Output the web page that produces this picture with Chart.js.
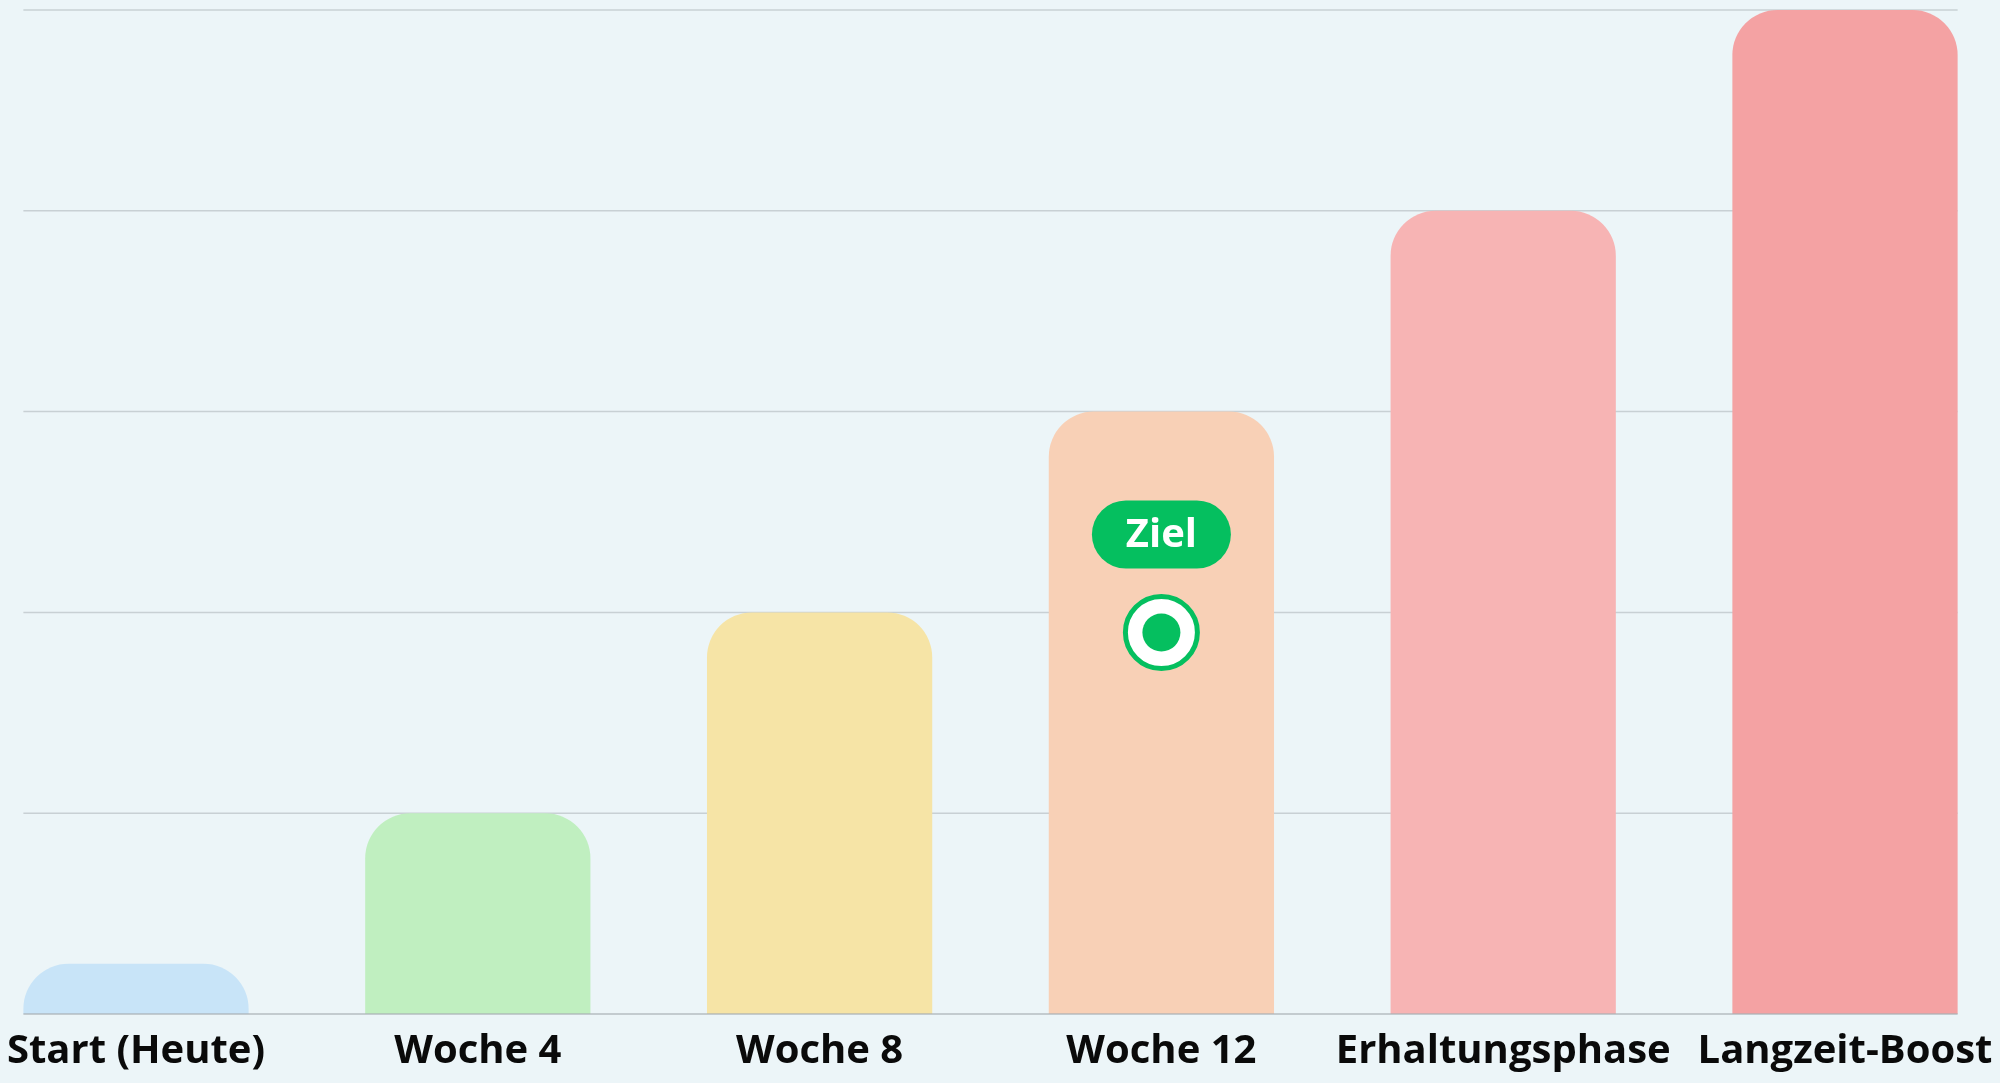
<!DOCTYPE html>
<html>
<head>
<meta charset="utf-8">
<script src="https://cdn.jsdelivr.net/npm/chart.js@4/dist/chart.umd.min.js"></script>
<style>
  html, body { margin: 0; padding: 0; background: #ECF5F8; }
  #wrap { width: 2000px; height: 1083px; }
</style>
</head>
<body>
<div id="wrap"><canvas id="c" width="2000" height="1083"></canvas></div>
<script>
const categories = ["Start (Heute)", "Woche 4", "Woche 8", "Woche 12", "Erhaltungsphase", "Langzeit-Boost"];
const values = [5, 20, 40, 60, 80, 100];
const barColors = ["#C8E4F8", "#C0EFC0", "#F6E4A6", "#F8D0B6", "#F7B4B4", "#F4A2A3"];
const goalCategoryIndex = 3;
const goalMarkerValue = 38;
const goalLabel = "Ziel";
const yTicks = [0, 20, 40, 60, 80, 100];

const GREEN = "#05BF5F";
const GRID = "#C8D0D4";
const BAR_RADIUS = 45;

const markerData = categories.map((c, i) => i === goalCategoryIndex ? goalMarkerValue : null);

function barExtent(chart) {
  const bars = chart.getDatasetMeta(0).data;
  const first = bars[0], last = bars[bars.length - 1];
  return [first.x - first.width / 2, last.x + last.width / 2];
}

// Grid lines spanning the full width of the outer bars
const gridPlugin = {
  id: 'wideGrid',
  beforeDatasetsDraw(chart) {
    const ys = chart.scales.y;
    if (!chart.getDatasetMeta(0).data.length) return;
    const [x0, x1] = barExtent(chart);
    const ctx = chart.ctx;
    ctx.save();
    ys.ticks.forEach((t) => {
      if (t.value === yTicks[0]) return;
      const y = ys.getPixelForValue(t.value);
      ctx.beginPath();
      ctx.strokeStyle = GRID;
      ctx.lineWidth = 1.5;
      ctx.moveTo(x0, y);
      ctx.lineTo(x1, y);
      ctx.stroke();
    });
    ctx.restore();
  },
  afterDatasetsDraw(chart) {
    const ys = chart.scales.y;
    if (!chart.getDatasetMeta(0).data.length) return;
    const [x0, x1] = barExtent(chart);
    const y = ys.getPixelForValue(yTicks[0]);
    const ctx = chart.ctx;
    ctx.save();
    ctx.beginPath();
    ctx.strokeStyle = "rgba(168,175,180,0.6)";
    ctx.lineWidth = 2;
    ctx.moveTo(x0, y);
    ctx.lineTo(x1, y);
    ctx.stroke();
    ctx.restore();
  }
};

// Draw bars from their element geometry with unclamped top radius
const roundBarPlugin = {
  id: 'roundBars',
  beforeDatasetDraw(chart, args) {
    if (args.index !== 0) return;
    const ctx = chart.ctx;
    ctx.save();
    args.meta.data.forEach((bar, i) => {
      const p = bar.getProps(['x', 'y', 'base', 'width'], true);
      const left = p.x - p.width / 2;
      const top = Math.min(p.y, p.base);
      const h = Math.abs(p.base - p.y);
      const r = Math.min(BAR_RADIUS, p.width / 2, h);
      ctx.fillStyle = bar.options.backgroundColor;
      ctx.beginPath();
      ctx.roundRect(left, top, p.width, h, [r, r, 0, 0]);
      ctx.fill();
    });
    ctx.restore();
    return false;
  }
};

const badgePlugin = {
  id: 'goalBadge',
  afterDatasetsDraw(chart) {
    const meta = chart.getDatasetMeta(1);
    const pt = meta.data[goalCategoryIndex];
    if (!pt) return;
    const ctx = chart.ctx;
    const w = 139, h = 68, r = 34;
    const cx = pt.x, cy = pt.y - 98;
    ctx.save();
    ctx.fillStyle = GREEN;
    ctx.beginPath();
    ctx.roundRect(cx - w / 2, cy - h / 2, w, h, r);
    ctx.fill();
    ctx.fillStyle = "#FFFFFF";
    ctx.font = "bold 40px 'Open Sans'";
    ctx.textAlign = "center";
    ctx.textBaseline = "middle";
    ctx.fillText(goalLabel, cx, cy + 1);
    ctx.restore();
  }
};

function draw() {
  new Chart(document.getElementById('c'), {
    type: 'bar',
    data: {
      labels: categories,
      datasets: [
        {
          type: 'bar',
          data: values,
          backgroundColor: barColors,
          borderRadius: BAR_RADIUS,
          borderSkipped: 'bottom',
          barPercentage: 0.659,
          categoryPercentage: 1,
          clip: false,
          order: 2
        },
        {
          type: 'line',
          data: markerData,
          showLine: false,
          pointRadius: 36,
          pointBackgroundColor: "#FFFFFF",
          pointBorderColor: GREEN,
          pointBorderWidth: 5,
          clip: false,
          order: 1
        },
        {
          type: 'line',
          data: markerData,
          showLine: false,
          pointRadius: 19,
          pointBackgroundColor: GREEN,
          pointBorderColor: GREEN,
          pointBorderWidth: 0,
          clip: false,
          order: 0
        }
      ]
    },
    options: {
      responsive: false,
      animation: false,
      maintainAspectRatio: false,
      layout: { autoPadding: false, padding: { left: 136, right: 155, top: 10, bottom: 0 } },
      plugins: { legend: { display: false }, tooltip: { enabled: false } },
      scales: {
        x: {
          type: 'category',
          offset: false,
          grid: { display: false, drawTicks: false },
          border: { display: false },
          afterFit: (scale) => { scale.height = 69; scale.paddingLeft = 0; scale.paddingRight = 0; },
          ticks: {
            autoSkip: false,
            maxRotation: 0,
            padding: 14,
            color: "#0A0A0A",
            font: { family: "'Open Sans'", size: 40, weight: 'bold' }
          }
        },
        y: {
          min: yTicks[0],
          max: yTicks[yTicks.length - 1],
          afterBuildTicks: (scale) => { scale.ticks = yTicks.map(v => ({ value: v })); },
          afterFit: (scale) => { scale.width = 0; },
          grid: { display: false, drawTicks: false },
          border: { display: false },
          ticks: { display: false }
        }
      }
    },
    plugins: [gridPlugin, roundBarPlugin, badgePlugin]
  });
}

if (document.fonts && document.fonts.load) {
  document.fonts.load("bold 40px 'Open Sans'").then(draw, draw);
} else {
  draw();
}
</script>
</body>
</html>
